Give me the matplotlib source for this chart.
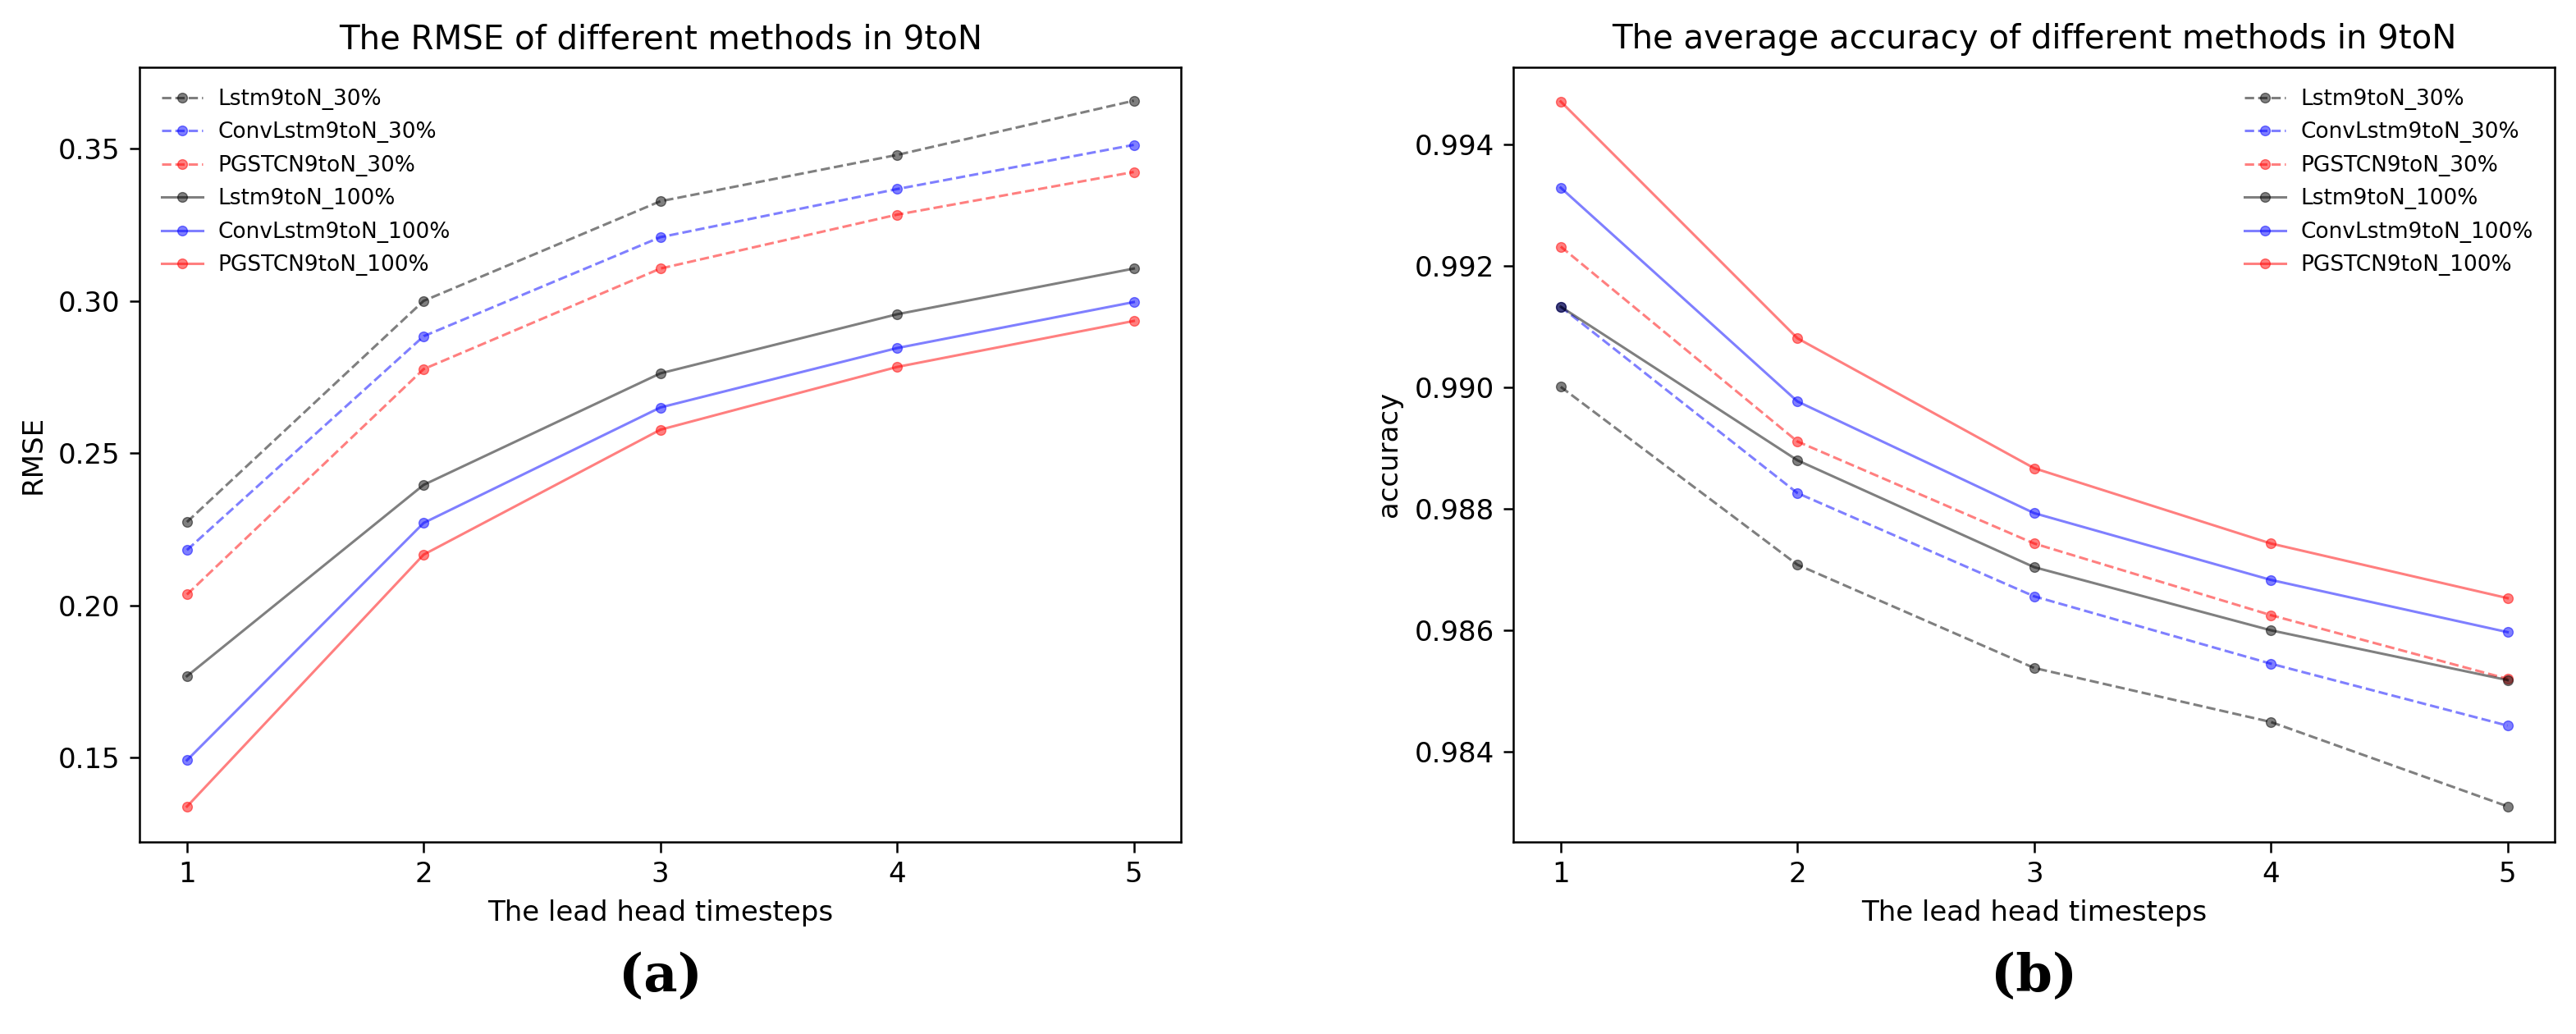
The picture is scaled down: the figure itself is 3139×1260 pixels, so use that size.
import matplotlib
matplotlib.use("Agg")
import matplotlib.pyplot as plt

steps = [1, 2, 3, 4, 5]

labels = ["Lstm9toN_30%", "ConvLstm9toN_30%", "PGSTCN9toN_30%",
          "Lstm9toN_100%", "ConvLstm9toN_100%", "PGSTCN9toN_100%"]

# RMSE values
rmse_lstm_30 = [0.2274, 0.3000, 0.3327, 0.3479, 0.3657]
rmse_conv_30 = [0.2182, 0.2884, 0.3209, 0.3367, 0.3512]
rmse_pgstcn_30 = [0.2036, 0.2776, 0.3106, 0.3283, 0.3423]
rmse_lstm_100 = [0.1768, 0.2396, 0.2762, 0.2956, 0.3106]
rmse_conv_100 = [0.1492, 0.2271, 0.2650, 0.2845, 0.2996]
rmse_pgstcn_100 = [0.1340, 0.2167, 0.2577, 0.2783, 0.2934]

# accuracy values
acc_lstm_30 = [0.99001, 0.98708, 0.98538, 0.98449, 0.98310]
acc_conv_30 = [0.99133, 0.98826, 0.98656, 0.98545, 0.98443]
acc_pgstcn_30 = [0.99232, 0.98911, 0.98743, 0.98625, 0.98520]
acc_lstm_100 = [0.99133, 0.98880, 0.98704, 0.98600, 0.98518]
acc_conv_100 = [0.99329, 0.98977, 0.98793, 0.98683, 0.98597]
acc_pgstcn_100 = [0.99471, 0.99081, 0.98867, 0.98743, 0.98653]

colors = ["k", "b", "r", "k", "b", "r"]
styles = ["--", "--", "--", "-", "-", "-"]

rmse_series = [rmse_lstm_30, rmse_conv_30, rmse_pgstcn_30,
               rmse_lstm_100, rmse_conv_100, rmse_pgstcn_100]
acc_series = [acc_lstm_30, acc_conv_30, acc_pgstcn_30,
              acc_lstm_100, acc_conv_100, acc_pgstcn_100]

plt.rcParams['font.family'] = ['DejaVu Sans']

fig = plt.figure(figsize=(31.39, 12.60), dpi=100)
ax1 = fig.add_axes([0.0542, 0.1861, 0.4043, 0.7492])
ax2 = fig.add_axes([0.5875, 0.1861, 0.4043, 0.7492])


def draw(ax, series, title, ylabel, loc):
    for s, lab, c, ls in zip(series, labels, colors, styles):
        ax.plot(steps, s, ls, color=c, alpha=0.5, marker='.', markersize=17,
                linewidth=2.2, label=lab)
    ax.set_title(title, fontsize=29, pad=16)
    ax.set_xlabel("The lead head timesteps", fontsize=24.5, labelpad=10)
    ax.set_ylabel(ylabel, fontsize=24.5, labelpad=10)
    ax.set_xticks(steps)
    ax.tick_params(labelsize=24.5, length=9, width=1.8, pad=8)
    for sp in ax.spines.values():
        sp.set_linewidth(1.8)
    ax.legend(loc=loc, frameon=False, fontsize=19, handlelength=1.9,
              handletextpad=0.7, labelspacing=0.55, borderaxespad=0.6)


draw(ax1, rmse_series, "The RMSE of different methods in 9toN", "RMSE", "upper left")
ax1.set_ylim(0.1225, 0.3768)
ax1.set_yticks([0.15, 0.20, 0.25, 0.30, 0.35])

draw(ax2, acc_series, "The average accuracy of different methods in 9toN", "accuracy", "upper right")
ax2.set_ylim(0.98252, 0.99528)
ax2.set_yticks([0.984, 0.986, 0.988, 0.990, 0.992, 0.994])

fig.text(0.2563, 0.055, "(a)", fontsize=46, fontweight='bold',
         family='DejaVu Serif', ha='center', va='center')
fig.text(0.7896, 0.055, "(b)", fontsize=46, fontweight='bold',
         family='DejaVu Serif', ha='center', va='center')

fig.savefig("out.png", dpi=100)
